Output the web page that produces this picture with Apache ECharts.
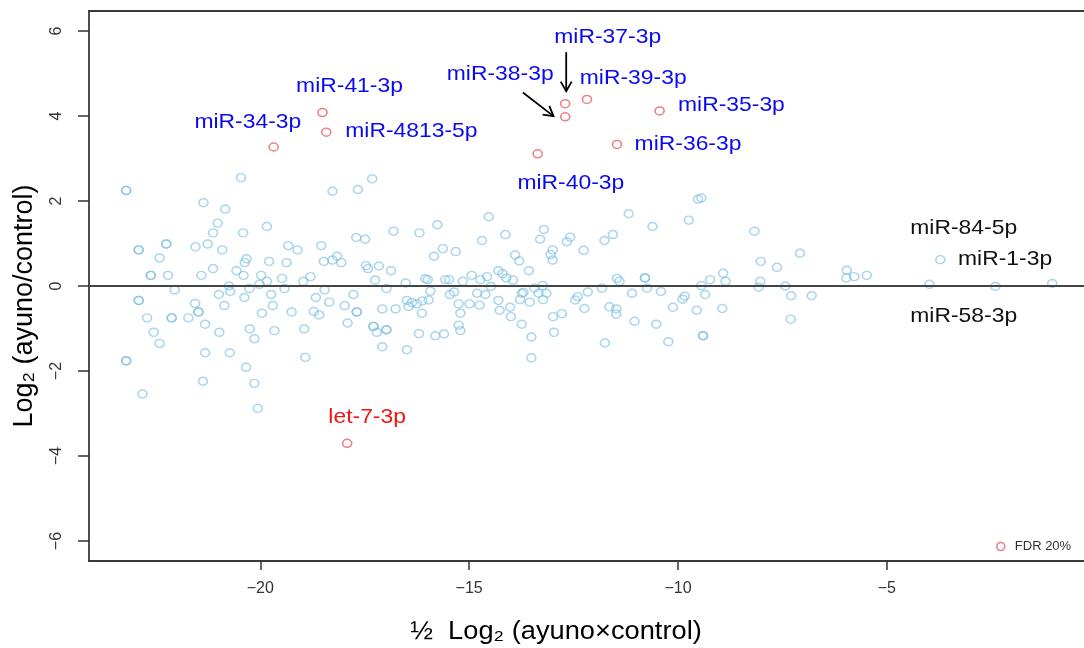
<!DOCTYPE html>
<html>
<head>
<meta charset="utf-8">
<script src="https://cdn.jsdelivr.net/npm/echarts@6/dist/echarts.min.js"></script>
<style>
html,body{margin:0;padding:0;background:#ffffff;}
#c{width:1084px;height:648px;}
</style>
</head>
<body>
<div id="c"></div>
<script>
// ---------- data ----------
const xTicks = [-20, -15, -10, -5];
const yTicks = [-6, -4, -2, 0, 2, 4, 6];

const blueX = [
 -23.21,-23.21,-23.21,-23.21,-22.91,-22.91,-22.91,-22.91,-22.82,-22.71,-22.62,-22.62,-22.55,-22.41,-22.41,
 -22.25,-22.25,-22.21,-22.12,-22.12,-22.05,-21.72,-21.56,-21.55,-21.48,-21.48,-21.41,-21.36,-21.37,-21.32,
 -21.32,-21.26,-21.13,-21.13,-21.02,-20.99,-20.98,-20.91,-20.86,-20.84,-20.75,-20.72,-20.73,-20.57,-20.46,
 -20.41,-20.40,-20.38,-20.37,-20.33,-20.34,-20.26,-20.25,-20.14,-20.14,-20.06,-20.02,-19.98,-19.96,
 -19.84,-19.84,-19.79,-19.74,-19.70,-19.66,-19.48,-19.42,-19.37,-19.33,-19.25,-19.11,-18.97,-18.95,-18.92,
 -18.80,-18.72,-18.67,-18.59,-18.54,-18.48,-18.46,-18.35,-18.27,-18.27,-18.16,-18.06,-17.98,-17.91,-17.77,
 -17.70,-17.69,-17.69,-17.66,-17.49,-17.47,-17.42,-17.32,-17.29,-17.29,-17.25,-17.21,-17.16,-17.08,-17.08,
 -16.98,-16.98,-16.98,-16.87,-16.81,-16.76,-16.52,-16.49,-16.49,-16.45,-16.37,-16.25,-16.20,-16.19,-16.13,
 -16.12,-16.05,-15.99,-15.97,-15.93,-15.84,-15.81,-15.76,
 -15.63,-15.60,-15.57,-15.48,-15.46,-15.36,-15.32,-15.25,-15.21,-15.25,-15.21,-15.15,-14.99,-14.94,-14.81,
 -14.75,-14.73,-14.69,-14.61,-14.57,-14.53,-14.48,-14.30,-14.30,-14.27,-14.20,-14.13,-14.11,-14.02,-14.00,
 -13.95,-13.90,-13.80,-13.78,-13.74,-13.70,-13.74,-13.57,-13.55,-13.51,-13.51,-13.44,-13.34,-13.30,-13.21,
 -13.15,-13.23,-13.24,-13.00,-13.05,-13.00,-12.99,-12.78,-12.97,-12.66,-12.58,-12.46,-12.40,-12.26,-12.24,
 -12.16,-11.82,-11.76,-11.75,-11.64,-11.56,-11.48,-11.48,-11.46,-11.40,
 -11.18,-11.10,-11.04,-10.79,-10.79,-10.74,-10.61,-10.52,-10.41,-10.23,-10.12,-9.89,-9.84,-9.74,-9.55,
 -9.52,-9.44,-9.44,-9.40,-9.40,-9.35,-9.23,-8.94,-8.92,-8.86,-8.17,-8.07,-8.03,-8.02,-7.63,
 -7.43,-7.29,-7.30,-7.08,-6.80,
 -5.96,-5.97,-5.78,-5.48,-3.98,-3.72,-2.40,-1.04
];
const blueY = [
 2.25,2.25,-1.76,-1.76,0.85,0.85,-0.34,-0.34,-2.54,-0.75,0.25,0.25,-1.09,0.66,-1.35,
 0.99,0.99,0.25,-0.75,-0.75,-0.09,-0.75,-0.41,0.92,-0.61,-0.61,0.25,1.96,-2.24,-0.90,
 -1.57,0.99,1.25,0.41,1.48,-0.20,-1.09,0.85,-0.46,1.81,0.00,-0.13,-1.57,0.36,2.55,
 1.25,0.25,-0.27,0.55,0.64,-1.91,-0.06,-1.01,-1.24,-2.29,-2.88,0.04,0.25,-0.64,
 1.40,0.11,0.58,-0.20,-0.46,-1.05,0.18,-0.06,0.55,0.95,-0.61,0.85,0.11,-1.01,-1.68,
 0.22,-0.60,-0.27,-0.68,0.95,0.58,-0.09,-0.38,2.23,0.61,0.70,0.55,-0.46,-0.87,-0.20,
 1.14,-0.61,-0.61,2.27,1.10,0.48,0.41,2.52,-0.95,-0.95,0.14,-1.09,0.47,-0.54,-1.43,
 -0.06,-1.03,-1.03,0.36,1.29,-0.54,0.07,-0.34,-1.50,-0.48,-0.39,-0.42,-1.12,1.25,-0.64,
 -0.35,0.17,0.15,-0.33,-0.12,0.70,-1.17,1.44,
 0.88,-1.13,0.15,0.15,-0.20,-0.14,0.81,-0.42,-0.64,-0.92,-1.05,0.11,-0.42,0.25,-0.17,
 -0.45,0.15,1.07,-0.20,0.22,1.63,-0.01,0.36,-0.34,-0.57,0.29,1.21,0.19,-0.50,-0.72,
 0.14,0.73,0.59,-0.32,-0.17,-0.15,-0.90,0.36,-0.38,-1.20,-1.69,-0.05,-0.17,1.10,1.33,
 -0.17,-0.32,0.01,0.85,0.74,0.61,-0.72,-0.65,-1.09,1.04,1.15,-0.33,-0.25,0.84,-0.53,
 -0.14,-0.05,1.07,-1.34,-0.49,1.21,-0.54,-0.66,0.18,0.11,
 1.70,-0.17,-0.83,0.19,0.19,-0.05,1.40,-0.90,-0.13,-1.31,-0.50,-0.31,-0.24,1.55,-0.57,
 2.04,2.07,0.01,-1.17,-1.17,-0.20,0.15,-0.53,0.30,0.11,1.29,-0.03,0.11,0.58,0.44,
 0.00,-0.23,-0.78,0.77,-0.23,
 0.37,0.19,0.22,0.25,0.04,0.62,-0.01,0.06
];

const redNames = ['miR-34-3p','miR-41-3p','miR-4813-5p','miR-37-3p','miR-39-3p','miR-38-3p','miR-35-3p','miR-36-3p','miR-40-3p','let-7-3p'];
const redX = [-19.68,-18.51,-18.42,-12.70,-12.18,-12.70,-10.44,-11.46,-13.36,-17.92];
const redY = [3.27,4.08,3.62,4.29,4.39,3.98,4.12,3.33,3.11,-3.70];

const legendName = 'FDR 20%';
const yTitle = 'Log\u2082 (ayuno/control)';
const xTitle = '\u00BD  Log\u2082 (ayuno\u00D7control)';

// ---------- styles ----------
const FONT = '"Liberation Sans", Arial, Helvetica, sans-serif';
const BLUE_TXT = '#0a0af0';
const RED_TXT = '#f01414';
const BLACK_TXT = '#111111';
const BLUE_PT = 'rgba(118,190,226,0.78)';
const RED_PT = 'rgba(222,84,96,0.9)';
const FRAME = '#3a3a3a';

const ANN = [
  {text:'miR-34-3p',   at:'miR-34-3p',   dx:-25.8, dy:-24.4, align:'center', color:BLUE_TXT},
  {text:'miR-41-3p',   at:'miR-41-3p',   dx:27,    dy:-26.3, align:'center', color:BLUE_TXT},
  {text:'miR-4813-5p', at:'miR-4813-5p', dx:19,    dy:-0.5,  align:'left',   color:BLUE_TXT},
  {text:'miR-37-3p',   at:'miR-37-3p',   dx:42.5,  dy:-66.8, align:'center', color:BLUE_TXT},
  {text:'miR-39-3p',   at:'miR-39-3p',   dx:46.3,  dy:-21.6, align:'center', color:BLUE_TXT},
  {text:'miR-38-3p',   at:'miR-38-3p',   dx:-65,   dy:-42.7, align:'center', color:BLUE_TXT},
  {text:'miR-35-3p',   at:'miR-35-3p',   dx:18.4,  dy:-5.7,  align:'left',   color:BLUE_TXT},
  {text:'miR-36-3p',   at:'miR-36-3p',   dx:17.6,  dy:-0.5,  align:'left',   color:BLUE_TXT},
  {text:'miR-40-3p',   at:'miR-40-3p',   dx:33.2,  dy:29.5,  align:'center', color:BLUE_TXT},
  {text:'let-7-3p',    at:'let-7-3p',    dx:20,    dy:-26,   align:'center', color:RED_TXT},
  {text:'miR-84-5p',   at:'blue:-3.72',  dx:-30,   dy:-31,   align:'left',   color:BLACK_TXT},
  {text:'miR-1-3p',    at:'blue:-3.72',  dx:17.7,  dy:0,     align:'left',   color:BLACK_TXT},
  {text:'miR-58-3p',   at:'blue:-3.72',  dx:-30,   dy:56.5,  align:'left',   color:BLACK_TXT}
];
const ARROWS = [
  {at:'miR-37-3p', from:[1,-51.5], to:[1,-12.5]},
  {at:'miR-38-3p', from:[-42.3,-24.4], to:[-11.7,-0.7]}
];

// ---------- chart ----------
const chart = echarts.init(document.getElementById('c'), null, {renderer:'canvas'});
const fmt = v => String(v).replace('-', '\u2212');

const blueData = blueX.map((x, i) => [x, blueY[i]]);
const redData = redX.map((x, i) => ({name: redNames[i], value: [x, redY[i]]}));

const option = {
  animation: false,
  backgroundColor: '#ffffff',
  grid: {left: 89, top: 11, right: 0, height: 550, show: false},
  xAxis: [{
    type: 'value', min: -24.1, max: -0.28, position: 'bottom',
    axisLine: {show: true, onZero: false, lineStyle: {color: FRAME, width: 1.8}},
    splitLine: {show: false},
    axisTick: {show: true, customValues: xTicks, length: 9, lineStyle: {color: '#333', width: 1.5}},
    axisLabel: {customValues: xTicks, formatter: fmt, margin: 20, fontSize: 16,
                color: '#333', fontFamily: FONT}
  }, {
    type: 'value', min: -24.1, max: -0.28, position: 'top',
    axisLine: {show: true, onZero: false, lineStyle: {color: FRAME, width: 1.8}},
    splitLine: {show: false}, axisTick: {show: false}, axisLabel: {show: false}
  }],
  yAxis: {
    type: 'value', min: -6.47, max: 6.47, position: 'left',
    axisLine: {show: true, onZero: false, lineStyle: {color: FRAME, width: 1.8}},
    splitLine: {show: false},
    axisTick: {show: true, customValues: yTicks, length: 11, lineStyle: {color: '#333', width: 1.5}},
    axisLabel: {customValues: yTicks, formatter: fmt, rotate: 90, margin: 24, fontSize: 16,
                color: '#333', fontFamily: FONT}
  },
  legend: {
    data: [{name: legendName, icon: 'circle',
            itemStyle: {color: 'rgba(0,0,0,0)', borderColor: RED_PT, borderWidth: 1.6}}],
    left: 991, top: 535, itemWidth: 18, itemHeight: 8,
    textStyle: {fontSize: 13, color: '#333', fontFamily: FONT},
    selectedMode: false
  },
  series: [
    {
      type: 'scatter', name: 'all', data: blueData, symbol: 'circle', symbolSize: [9, 8],
      itemStyle: {color: 'rgba(0,0,0,0)', borderColor: BLUE_PT, borderWidth: 1.5},
      silent: true, z: 2,
      markLine: {
        silent: true, symbol: ['none', 'none'], label: {show: false},
        lineStyle: {color: '#444', width: 2, type: 'solid'},
        data: [{yAxis: 0}]
      }
    },
    {
      type: 'scatter', name: legendName, data: redData, symbol: 'circle', symbolSize: [9, 8],
      itemStyle: {color: 'rgba(0,0,0,0)', borderColor: RED_PT, borderWidth: 1.6},
      silent: true, z: 3
    }
  ]
};
chart.setOption(option);

// ---------- annotations anchored to data points ----------
function anchor(key) {
  if (key.indexOf('blue:') === 0) {
    const i = blueX.indexOf(parseFloat(key.slice(5)));
    return chart.convertToPixel({xAxisIndex: 0, yAxisIndex: 0}, [blueX[i], blueY[i]]);
  }
  const i = redNames.indexOf(key);
  return chart.convertToPixel({xAxisIndex: 0, yAxisIndex: 0}, [redX[i], redY[i]]);
}

const graphics = [];
ANN.forEach(a => {
  const p = anchor(a.at);
  graphics.push({
    type: 'text', x: p[0] + a.dx, y: p[1] + a.dy, scaleX: 1.09, z: 100, silent: true,
    style: {text: a.text, fill: a.color, fontSize: 21, fontFamily: FONT,
            align: a.align, verticalAlign: 'middle'}
  });
});
ARROWS.forEach(a => {
  const p = anchor(a.at);
  const x1 = p[0] + a.from[0], y1 = p[1] + a.from[1];
  const x2 = p[0] + a.to[0], y2 = p[1] + a.to[1];
  const ang = Math.atan2(y2 - y1, x2 - x1);
  const L = 11, w = 0.52;
  graphics.push({type: 'line', z: 100, silent: true,
    shape: {x1: x1, y1: y1, x2: x2, y2: y2}, style: {stroke: '#000', lineWidth: 1.8}});
  graphics.push({type: 'polyline', z: 100, silent: true,
    shape: {points: [
      [x2 - L * Math.cos(ang - w), y2 - L * Math.sin(ang - w)],
      [x2, y2],
      [x2 - L * Math.cos(ang + w), y2 - L * Math.sin(ang + w)]
    ]}, style: {stroke: '#000', lineWidth: 1.8, fill: null}});
});
// axis titles
graphics.push({type: 'text', x: 25, y: 306, rotation: Math.PI / 2, z: 100, silent: true,
  style: {text: yTitle, fill: '#000', fontSize: 27, fontFamily: FONT, align: 'center', verticalAlign: 'middle'}});
graphics.push({type: 'text', x: 556, y: 632, scaleX: 1.09, z: 100, silent: true,
  style: {text: xTitle, fill: '#000', fontSize: 25, fontFamily: FONT, align: 'center', verticalAlign: 'middle'}});

chart.setOption({graphic: graphics});
</script>
</body>
</html>
